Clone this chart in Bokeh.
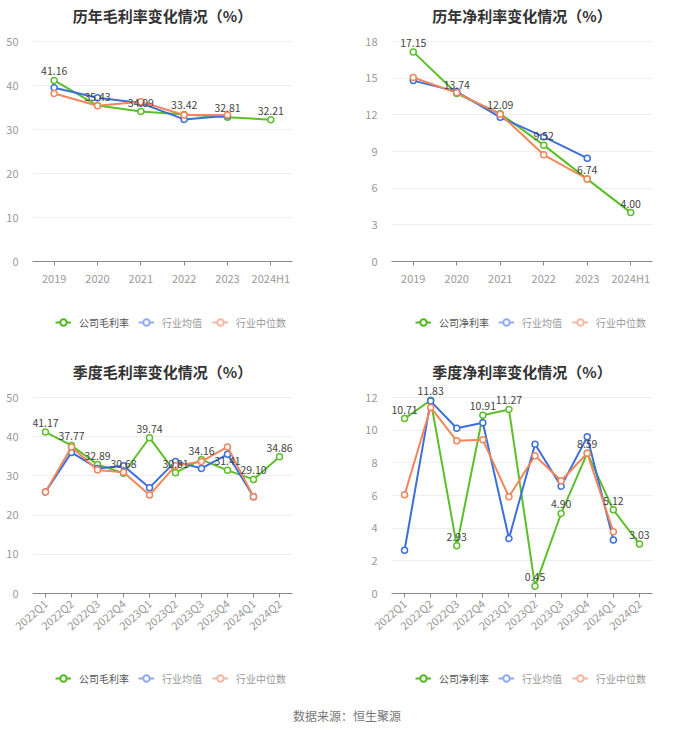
from bokeh.plotting import figure
from bokeh.models import FactorRange, Range1d, FixedTicker, Legend, LegendItem, ColumnDataSource, Div
from bokeh.layouts import column, row
from bokeh.embed import file_html
from bokeh.resources import INLINE
from bokeh.core.properties import value

FONT = "Noto Sans CJK SC"

years = ["2019", "2020", "2021", "2022", "2023", "2024H1"]
gross_company = [41.16, 35.43, 34.09, 33.42, 32.81, 32.21]
gross_mean = [39.5, 37.2, 36.0, 32.3, 33.1]
gross_median = [38.2, 35.4, 36.3, 33.3, 33.3]

net_company = [17.15, 13.74, 12.09, 9.52, 6.74, 4.00]
net_mean = [14.8, 13.9, 11.8, 10.2, 8.45]
net_median = [15.06, 13.8, 12.05, 8.73, 6.75]

quarters = ["2022Q1", "2022Q2", "2022Q3", "2022Q4", "2023Q1", "2023Q2",
            "2023Q3", "2023Q4", "2024Q1", "2024Q2"]
q_gross_company = [41.17, 37.77, 32.89, 30.68, 39.74, 30.81, 34.16, 31.41, 29.10, 34.86]
q_gross_mean = [25.9, 36.0, 31.9, 32.6, 27.0, 33.7, 31.9, 35.5, 24.7]
q_gross_median = [25.9, 37.4, 31.5, 30.9, 25.1, 32.6, 33.7, 37.4, 24.7]

q_net_company = [10.71, 11.83, 2.93, 10.91, 11.27, 0.45, 4.90, 8.59, 5.12, 3.03]
q_net_mean = [2.65, 11.78, 10.12, 10.45, 3.37, 9.14, 6.57, 9.59, 3.27]
q_net_median = [6.04, 11.39, 9.35, 9.41, 5.92, 8.43, 6.90, 8.59, 3.78]

y_ticks_gross = [0, 10, 20, 30, 40, 50]
y_ticks_net = [0, 3, 6, 9, 12, 15, 18]
y_ticks_qnet = [0, 2, 4, 6, 8, 10, 12]

series_mean = "行业均值"
series_median = "行业中位数"

GREEN = "#5cbf2a"
BLUE = "#3d6fdb"
ORANGE = "#f2855a"
LEG_COLORS = ["#52b820", "#8fabee", "#f5b79f"]
LEG_TEXT = ["#555555", "#999999", "#999999"]


def make_fig(title, cats, company, mean, median, ticks, left, right, top,
             tick_px, ext_px, width, height, rotate=False):
    y_end = ticks[-1] * (1 + ext_px / tick_px)
    fh = tick_px + ext_px
    p = figure(x_range=FactorRange(factors=cats, range_padding=0),
               y_range=Range1d(ticks[0], y_end),
               width=width, height=height, output_backend="svg",
               toolbar_location=None, min_border_left=left, min_border_right=right,
               min_border_top=top, min_border_bottom=height - top - fh)
    p.outline_line_color = None
    p.title.text = title
    p.title.align = "center"
    p.title.text_font = FONT
    p.title.text_font_size = "15px"
    p.title.text_font_style = "bold"
    p.title.text_color = "#333333"
    p.title.standoff = 0

    p.xgrid.grid_line_color = None
    p.ygrid.grid_line_color = "#eeeeee"
    p.yaxis.ticker = FixedTicker(ticks=ticks)
    p.yaxis.axis_line_color = None
    p.yaxis.major_tick_line_color = None
    p.yaxis.minor_tick_line_color = None
    p.yaxis.major_label_text_color = "#999999"
    p.yaxis.major_label_text_font = FONT
    p.yaxis.major_label_text_font_size = "11px"
    p.yaxis.major_label_standoff = 8

    p.xaxis.axis_line_color = "#888888"
    p.xaxis.major_tick_line_color = "#888888"
    p.xaxis.major_tick_in = 0
    p.xaxis.major_tick_out = 4
    p.xaxis.major_label_text_color = "#999999"
    p.xaxis.major_label_text_font = FONT
    p.xaxis.major_label_text_font_size = "11px"
    p.xaxis.major_label_standoff = 4
    if rotate:
        p.xaxis.major_label_orientation = 0.72

    for vals, color in ((company, GREEN), (mean, BLUE), (median, ORANGE)):
        src = ColumnDataSource(dict(x=cats[:len(vals)], y=vals))
        p.line("x", "y", source=src, line_color=color, line_width=2)
        p.scatter("x", "y", source=src, marker="circle", size=6,
                  fill_color="white", line_color=color, line_width=1.5)

    lab = ColumnDataSource(dict(x=cats, y=company, t=["%.2f" % v for v in company]))
    p.text("x", "y", text="t", source=lab, text_align="center", text_baseline="bottom",
           y_offset=-5, text_font=value(FONT), text_font_size="10.5px", text_color="#444444")
    return p


def make_legend(names, width, height, x0, yc):
    lp = figure(width=width, height=height, x_range=Range1d(0, 1), y_range=Range1d(0, 1),
                output_backend="svg", toolbar_location=None,
                x_axis_location=None, y_axis_location=None,
                min_border_left=0, min_border_right=0, min_border_top=0, min_border_bottom=0)
    lp.grid.visible = False
    lp.outline_line_color = None
    offsets = [0, 83, 157]
    for name, color, tcol, off in zip(names, LEG_COLORS, LEG_TEXT, offsets):
        # off-screen placeholder points: only their legend swatches are seen
        lr = lp.line(x=[-5, -4], y=[-5, -4], line_color=color, line_width=2)
        sr = lp.scatter(x=[-5], y=[-5], marker="circle", size=9, fill_color="white",
                        line_color=color, line_width=2)
        leg = Legend(items=[LegendItem(label=name, renderers=[lr, sr])],
                     location=(x0 + off, yc - 16), orientation="horizontal")
        leg.label_text_font = FONT
        leg.label_text_font_size = "10px"
        leg.label_text_color = tcol
        leg.border_line_color = None
        leg.background_fill_alpha = 0
        leg.glyph_width = 16
        leg.glyph_height = 16
        leg.label_standoff = 8
        leg.padding = 0
        leg.margin = 0
        lp.add_layout(leg, "center")
    return lp


f1 = make_fig("历年毛利率变化情况（%）", years, gross_company, gross_mean, gross_median,
              y_ticks_gross, 32, 50, 25, 220, 16, 342, 305)
f2 = make_fig("历年净利率变化情况（%）", years, net_company, net_mean, net_median,
              y_ticks_net, 49, 32, 25, 220, 16, 342, 305)
f3 = make_fig("季度毛利率变化情况（%）", quarters, q_gross_company, q_gross_mean, q_gross_median,
              y_ticks_gross, 32, 50, 39, 196, 16, 342, 318, rotate=True)
f4 = make_fig("季度净利率变化情况（%）", quarters, q_net_company, q_net_mean, q_net_median,
              y_ticks_qnet, 49, 32, 39, 196, 16, 342, 318, rotate=True)

l1 = make_legend(["公司毛利率", series_mean, series_median], 342, 37, 23, 28)
l2 = make_legend(["公司净利率", series_mean, series_median], 342, 37, 24, 28)
l3 = make_legend(["公司毛利率", series_mean, series_median], 342, 32, 23, 22)
l4 = make_legend(["公司净利率", series_mean, series_median], 342, 32, 24, 22)

src_div = Div(text="数据来源：恒生聚源", width=684, height=26,
              styles={"text-align": "center", "font-size": "12px", "color": "#777777",
                      "font-family": FONT, "width": "684px", "padding-top": "10px"})

layout = column(row(column(f1, l1), column(f2, l2)),
                row(column(f3, l3), column(f4, l4)),
                src_div)

open("out.html", "w").write(file_html(layout, INLINE))
